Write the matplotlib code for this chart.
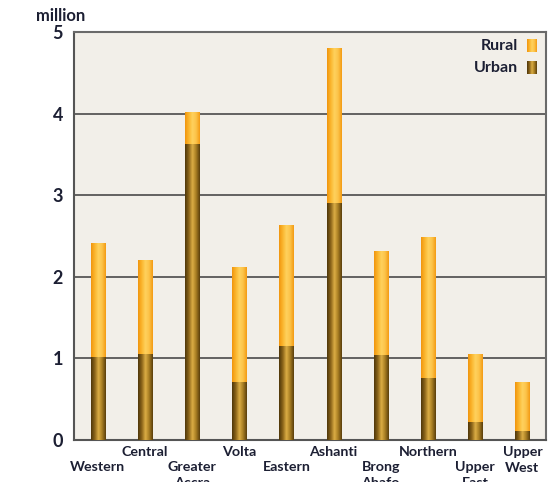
import numpy as np
import matplotlib
matplotlib.use("Agg")
import matplotlib.pyplot as plt
from matplotlib.colors import LinearSegmentedColormap

regions = ["Western", "Central", "Greater\nAccra", "Volta", "Eastern", "Ashanti",
           "Brong\nAhafo", "Northern", "Upper\nEast", "Upper\nWest"]
urban = [1.02, 1.05, 3.63, 0.71, 1.15, 2.90, 1.04, 0.76, 0.22, 0.11]
total = [2.41, 2.21, 4.02, 2.12, 2.63, 4.80, 2.32, 2.49, 1.05, 0.71]
rural = [t - u for t, u in zip(total, urban)]
yticks = [0, 1, 2, 3, 4, 5]

plt.rcParams['font.family'] = ['Lato', 'DejaVu Sans']
txtc = '#1c1f33'

fig = plt.figure(figsize=(5.51, 4.82), dpi=100)
ax = fig.add_axes([74/551, 42/482, (546-74)/551, (440-32)/482])
ax.set_facecolor('#f2efe9')

rural_cmap = LinearSegmentedColormap.from_list('r', ['#f0950e', '#fbb62e', '#ffd25e', '#fcc348', '#f39b14'])
urban_cmap = LinearSegmentedColormap.from_list('u', ['#4f360a', '#8a6419', '#dcae45', '#a67c22', '#5a3f0c'])
grad = np.linspace(0, 1, 64).reshape(1, -1)

x = np.arange(len(regions))
w = 0.30
b_u = ax.bar(x, urban, width=w, color='#a67c22', zorder=3, linewidth=0)
b_r = ax.bar(x, rural, width=w, bottom=urban, color='#fbb62e', zorder=3, linewidth=0)
for bars, cmap in ((b_u, urban_cmap), (b_r, rural_cmap)):
    for rect in bars:
        x0, y0 = rect.get_x(), rect.get_y()
        im = ax.imshow(grad, cmap=cmap, extent=(x0, x0 + rect.get_width(), y0, y0 + rect.get_height()),
                       aspect='auto', zorder=4, interpolation='bilinear')
        im.set_clip_path(rect)

ax.set_xlim(-0.5, len(regions) - 0.5)
ax.set_ylim(0, 5)
ax.set_yticks(yticks)
ax.set_yticklabels([str(v) for v in yticks], fontsize=13, fontweight='bold', color=txtc)
ax.tick_params(axis='y', length=0, pad=8)
ax.set_xticks([])
for v in yticks[1:-1]:
    ax.axhline(v, color='#4a4a4a', lw=1.2, zorder=2)
for s in ('top', 'right'):
    ax.spines[s].set_color('#6a6a6a')
    ax.spines[s].set_linewidth(1.5)
for s in ('left', 'bottom'):
    ax.spines[s].set_color('#555555')
    ax.spines[s].set_linewidth(1.5)

# staggered category labels, one text per line, placed by baseline
for i, name in enumerate(regions):
    base = -22.3 if i % 2 == 0 else -11.3
    for k, line in enumerate(name.split('\n')):
        ax.annotate(line, xy=(x[i], 0), xycoords='data', xytext=(0, base - 11.5 * k),
                    textcoords='offset points', ha='center', va='baseline', fontsize=10.3,
                    fontweight='bold', color=txtc, annotation_clip=False)

fig.text(36/551, 1 - 16/482, 'million', fontsize=12, fontweight='bold', color=txtc,
         va='center', ha='left')

# legend
ax.text(0.941, 0.966, 'Rural', transform=ax.transAxes, ha='right', va='center', fontsize=11.5,
        fontweight='bold', color=txtc)
ax.text(0.941, 0.912, 'Urban', transform=ax.transAxes, ha='right', va='center', fontsize=11.5,
        fontweight='bold', color=txtc)
for y0, y1, cmap in ((4.75, 4.90, rural_cmap), (4.49, 4.64, urban_cmap)):
    ax.imshow(grad, cmap=cmap, extent=(9.10, 9.31, y0, y1),
              aspect='auto', zorder=5, interpolation='bilinear')
ax.set_xlim(-0.5, len(regions) - 0.5)
ax.set_ylim(0, 5)

fig.savefig('out.png', dpi=100)
